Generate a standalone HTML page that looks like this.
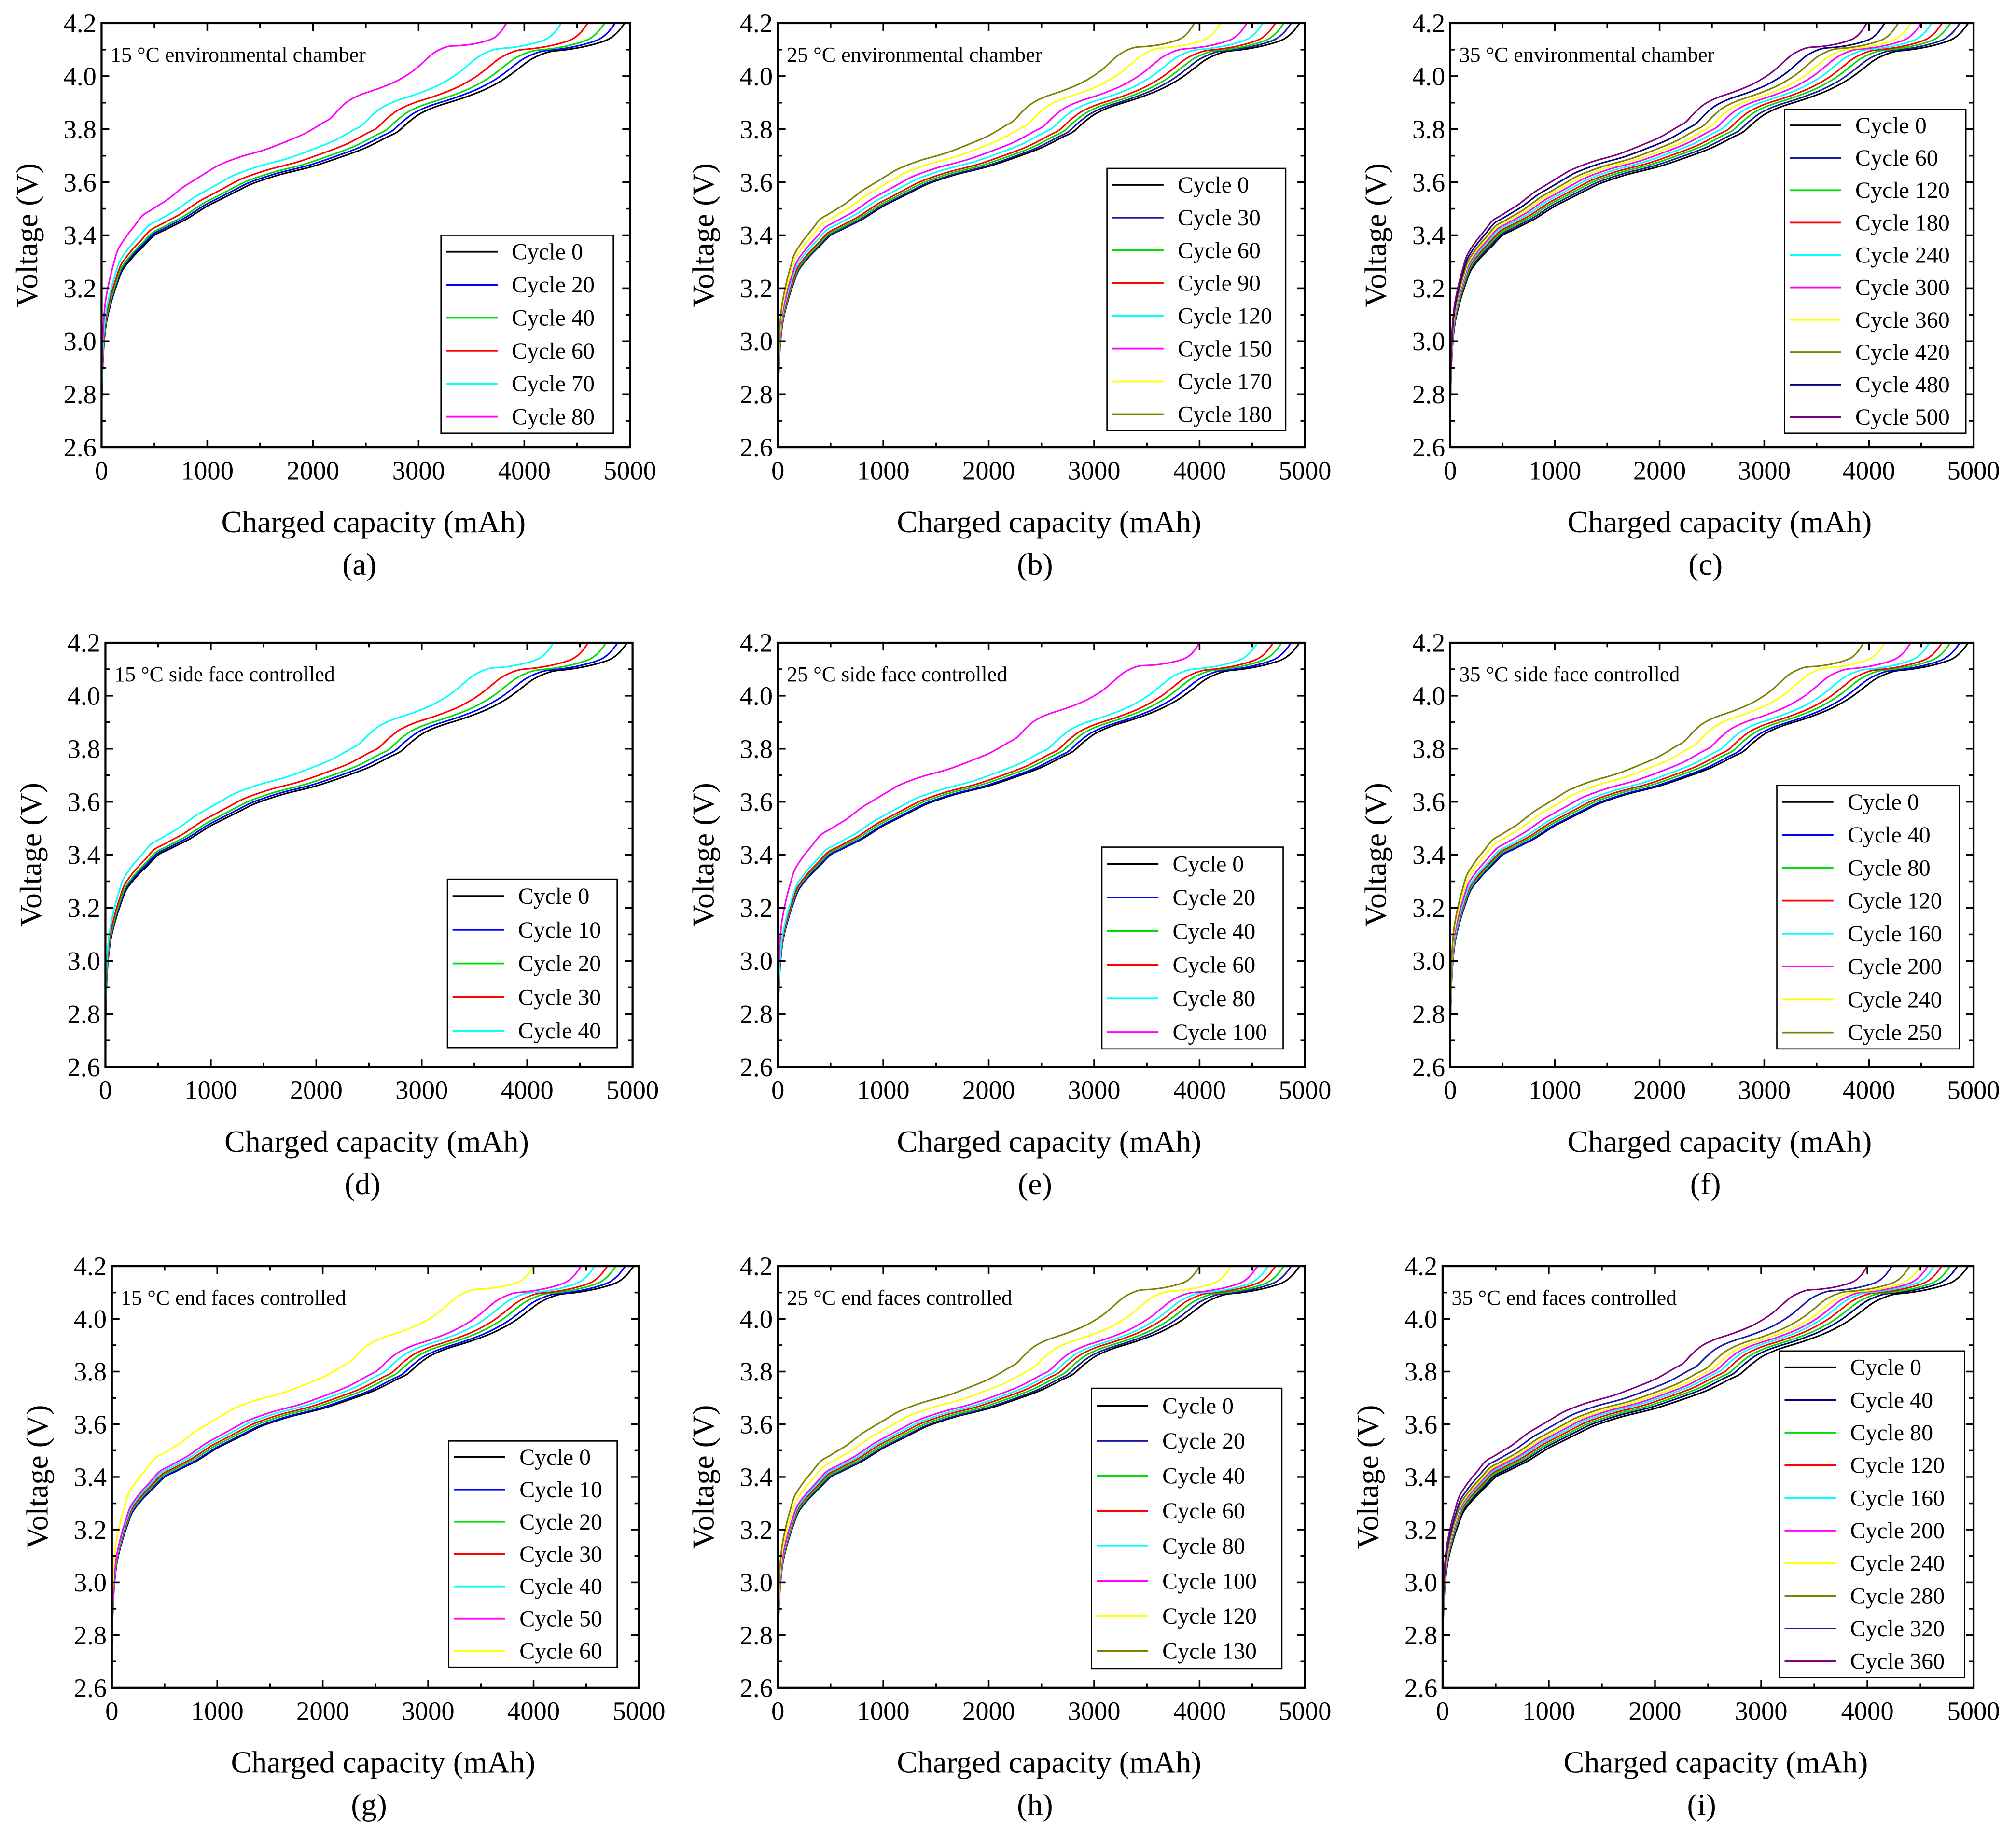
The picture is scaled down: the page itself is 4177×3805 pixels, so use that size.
<!DOCTYPE html>
<html><head><meta charset="utf-8"><style>
html,body{margin:0;padding:0;background:#fff;}
svg{display:block;font-family:"Liberation Serif","Times New Roman",serif;}
text{font-family:"Liberation Serif","Times New Roman",serif;fill:#000;}
</style></head><body>
<svg id="fig" xmlns="http://www.w3.org/2000/svg" width="4177" height="3805" viewBox="0 0 1568 1428.3" preserveAspectRatio="none" font-family="Liberation Serif, serif"></svg>
<script>
// Base cycle-0 charge curve: capacity (mAh) and voltage (V)
const baseQ = [0,10,25,50,100,150,200,300,400,500,600,700,800,900,1000,1100,1200,1300,1400,1500,1700,2000,2300,2500,2700,2800,2900,3000,3100,3200,3400,3600,3750,3850,3950,4050,4150,4250,4400,4550,4700,4800,4880,4950];
const baseV = [2.75,2.9,3.0,3.08,3.16,3.22,3.27,3.32,3.36,3.40,3.42,3.44,3.46,3.485,3.51,3.53,3.55,3.57,3.59,3.605,3.63,3.66,3.70,3.73,3.77,3.79,3.825,3.855,3.875,3.89,3.915,3.945,3.975,4.0,4.03,4.06,4.08,4.093,4.10,4.11,4.125,4.14,4.165,4.20];

const colK='#000000',colB='#0000ff',colG='#00dd00',colR='#ff0000',colC='#00ffff',colM='#ff00ff',colY='#ffff00',colO='#808000',colN='#000080',colN2='#1a1aa0',colP='#800080';

// Panel (a)
const aLabels=['Cycle 0','Cycle 20','Cycle 40','Cycle 60','Cycle 70','Cycle 80'];
const aEnd=[4950,4860,4760,4600,4350,3830];
const aOff=[0,0.005,0.01,0.02,0.035,0.075];
const aCol=[colK,colB,colG,colR,colC,colM];
// Panel (b)
const bLabels=['Cycle 0','Cycle 30','Cycle 60','Cycle 90','Cycle 120','Cycle 150','Cycle 170','Cycle 180'];
const bEnd=[4950,4870,4800,4720,4600,4450,4200,3950];
const bOff=[0,0,0.005,0.01,0.02,0.03,0.045,0.06];
const bCol=[colK,colN2,colG,colR,colC,colM,colY,colO];
// Panel (c)
const cLabels=['Cycle 0','Cycle 60','Cycle 120','Cycle 180','Cycle 240','Cycle 300','Cycle 360','Cycle 420','Cycle 480','Cycle 500'];
const cEnd=[4950,4870,4780,4700,4600,4500,4400,4280,4150,3980];
const cOff=[0,0.005,0.01,0.015,0.02,0.025,0.03,0.035,0.045,0.055];
const cCol=[colK,colN2,colG,colR,colC,colM,colY,colO,colN,colP];
// Panel (d)
const dLabels=['Cycle 0','Cycle 10','Cycle 20','Cycle 30','Cycle 40'];
const dEnd=[4950,4860,4750,4580,4250];
const dOff=[0,0.005,0.01,0.02,0.04];
const dCol=[colK,colB,colG,colR,colC];
// Panel (e)
const eLabels=['Cycle 0','Cycle 20','Cycle 40','Cycle 60','Cycle 80','Cycle 100'];
const eEnd=[4950,4870,4780,4700,4550,4000];
const eOff=[0,0,0.005,0.01,0.02,0.075];
const eCol=[colK,colB,colG,colR,colC,colM];
// Panel (f)
const fLabels=['Cycle 0','Cycle 40','Cycle 80','Cycle 120','Cycle 160','Cycle 200','Cycle 240','Cycle 250'];
const fEnd=[4950,4870,4780,4700,4580,4400,4150,3950];
const fOff=[0,0,0.005,0.01,0.015,0.025,0.04,0.055];
const fCol=[colK,colB,colG,colR,colC,colM,colY,colO];
// Panel (g)
const gLabels=['Cycle 0','Cycle 10','Cycle 20','Cycle 30','Cycle 40','Cycle 50','Cycle 60'];
const gEnd=[4950,4870,4780,4700,4580,4450,4000];
const gOff=[0,0,0.005,0.01,0.015,0.02,0.07];
const gCol=[colK,colB,colG,colR,colC,colM,colY];
// Panel (h)
const hLabels=['Cycle 0','Cycle 20','Cycle 40','Cycle 60','Cycle 80','Cycle 100','Cycle 120','Cycle 130'];
const hEnd=[4950,4870,4800,4720,4650,4550,4300,4000];
const hOff=[0,0,0.005,0.01,0.015,0.02,0.04,0.06];
const hCol=[colK,colN2,colG,colR,colC,colM,colY,colO];
// Panel (i)
const iLabels=['Cycle 0','Cycle 40','Cycle 80','Cycle 120','Cycle 160','Cycle 200','Cycle 240','Cycle 280','Cycle 320','Cycle 360'];
const iEnd=[4950,4850,4780,4700,4630,4570,4500,4400,4230,4000];
const iOff=[0,0.005,0.01,0.015,0.02,0.025,0.03,0.035,0.045,0.06];
const iCol=[colK,colN,colG,colR,colC,colM,colY,colO,colN2,colP];

const xTicks=[0,1000,2000,3000,4000,5000];
const yTicks=[2.6,2.8,3.0,3.2,3.4,3.6,3.8,4.0,4.2];

const panels=[
 {id:'a',title:'15 °C environmental chamber',L:aLabels,E:aEnd,O:aOff,C:aCol,x0:79,x1:490,y0:18,y1:348,lg:[343,183,477,337]},
 {id:'b',title:'25 °C environmental chamber',L:bLabels,E:bEnd,O:bOff,C:bCol,x0:605,x1:1015,y0:18,y1:348,lg:[861,131,1000,335]},
 {id:'c',title:'35 °C environmental chamber',L:cLabels,E:cEnd,O:cOff,C:cCol,x0:1128,x1:1535,y0:18,y1:348,lg:[1388,85,1529,337]},
 {id:'d',title:'15 °C side face controlled',L:dLabels,E:dEnd,O:dOff,C:dCol,x0:82,x1:492,y0:500,y1:830,lg:[348,684,480,815]},
 {id:'e',title:'25 °C side face controlled',L:eLabels,E:eEnd,O:eOff,C:eCol,x0:605,x1:1015,y0:500,y1:830,lg:[857,659,998,816]},
 {id:'f',title:'35 °C side face controlled',L:fLabels,E:fEnd,O:fOff,C:fCol,x0:1128,x1:1535,y0:500,y1:830,lg:[1382,611,1524,816]},
 {id:'g',title:'15 °C end faces controlled',L:gLabels,E:gEnd,O:gOff,C:gCol,x0:87,x1:497,y0:985,y1:1313,lg:[349,1121,480,1297]},
 {id:'h',title:'25 °C end faces controlled',L:hLabels,E:hEnd,O:hOff,C:hCol,x0:605,x1:1015,y0:985,y1:1313,lg:[849,1080,997,1298]},
 {id:'i',title:'35 °C end faces controlled',L:iLabels,E:iEnd,O:iOff,C:iCol,x0:1122,x1:1535,y0:985,y1:1313,lg:[1384,1051,1528,1305]}
];

const NS='http://www.w3.org/2000/svg';
const svg=document.getElementById('fig');
function mk(tag,attrs,parent){const e=document.createElementNS(NS,tag);for(const k in attrs)e.setAttribute(k,attrs[k]);(parent||svg).appendChild(e);return e;}
function smooth(pts){
 let d='M'+pts[0][0].toFixed(2)+' '+pts[0][1].toFixed(2);
 for(let i=0;i<pts.length-1;i++){
  const p0=pts[i-1]||pts[i],p1=pts[i],p2=pts[i+1],p3=pts[i+2]||p2;
  const c1x=p1[0]+(p2[0]-p0[0])/6,c1y=p1[1]+(p2[1]-p0[1])/6;
  const c2x=p2[0]-(p3[0]-p1[0])/6,c2y=p2[1]-(p3[1]-p1[1])/6;
  d+='C'+c1x.toFixed(2)+' '+c1y.toFixed(2)+' '+c2x.toFixed(2)+' '+c2y.toFixed(2)+' '+p2[0].toFixed(2)+' '+p2[1].toFixed(2);
 }
 return d;
}

panels.forEach(p=>{
 const g=mk('g',{});
 
 
 const X=v=>p.x0+(v/5000)*(p.x1-p.x0);
 const Y=v=>p.y1-(v-2.6)/1.6*(p.y1-p.y0);
 const cg=mk('g',{},g);
 
 
 const qMax=baseQ[baseQ.length-1];
 p.E.forEach((end,k)=>{
  const off=p.O[k];
  const s=end/qMax;
  const pts=baseQ.map((q,j)=>{const t=q/qMax;const v=Math.min(4.2,baseV[j]+off*(1-t*t));return [X(q*s),Y(v)];});
  const path=mk('path',{d:smooth(pts),fill:'none',stroke:p.C[k],'stroke-width':1.2,'stroke-linejoin':'round'},cg);
  
  
 });
 const fr=mk('rect',{x:p.x0,y:p.y0,width:p.x1-p.x0,height:p.y1-p.y0,fill:'none',stroke:'#000','stroke-width':1.6},g);
 
 
 const tg=mk('g',{stroke:'#000','stroke-width':1.3},g);
 for(let v=0;v<=5000;v+=500){const len=(v%1000===0)?6:3.5;const x=X(v);
  mk('line',{x1:x,y1:p.y1,x2:x,y2:p.y1-len},tg);mk('line',{x1:x,y1:p.y0,x2:x,y2:p.y0+len},tg);}
 for(let i=0;i<=16;i++){const v=2.6+i*0.1;const len=(i%2===0)?6:3.5;const y=Y(v);
  mk('line',{x1:p.x0,y1:y,x2:p.x0+len,y2:y},tg);mk('line',{x1:p.x1,y1:y,x2:p.x1-len,y2:y},tg);}
 xTicks.forEach(v=>{const t=mk('text',{x:X(v),y:p.y1+25,'text-anchor':'middle','font-size':20.5,'font-family':'Liberation Serif, serif'},g);t.textContent=v;
  });
 yTicks.forEach(v=>{const t=mk('text',{x:p.x0-4,y:Y(v)+7,'text-anchor':'end','font-size':20.5,'font-family':'Liberation Serif, serif'},g);t.textContent=v.toFixed(1);
  });
 const xt=mk('text',{x:(p.x0+p.x1)/2+6,y:p.y1+66,'text-anchor':'middle','font-size':24,'font-family':'Liberation Serif, serif'},g);xt.textContent='Charged capacity (mAh)';
 
 const yc=(p.y0+p.y1)/2, yx=p.x0-50;
 const yt=mk('text',{x:yx,y:yc,'text-anchor':'middle','font-size':24,'font-family':'Liberation Serif, serif',transform:'rotate(-90 '+yx+' '+yc+')'},g);yt.textContent='Voltage (V)';
 
 const pl=mk('text',{x:(p.x0+p.x1)/2-5,y:p.y1+99,'text-anchor':'middle','font-size':24,'font-family':'Liberation Serif, serif'},g);pl.textContent='('+p.id+')';
 
 const an=mk('text',{x:p.x0+7,y:p.y0+30,'font-size':16.5,'font-family':'Liberation Serif, serif'},g);an.textContent=p.title;
 
 const [lx0,ly0,lx1,ly1]=p.lg;
 const lgG=mk('g',{},g);
 
 
 mk('rect',{x:lx0,y:ly0,width:lx1-lx0,height:ly1-ly0,fill:'#fff',stroke:'#000','stroke-width':1},lgG);
 const n=p.L.length, step=(ly1-ly0)/n;
 p.L.forEach((lab,k)=>{const cy=ly0+step*(k+0.5);
  const ent=mk('g',{},lgG);
  
  
  mk('line',{x1:lx0+4,y1:cy,x2:lx0+44,y2:cy,stroke:p.C[k],'stroke-width':1.4},ent);
  const t=mk('text',{x:lx0+55,y:cy+6,'font-size':18,'font-family':'Liberation Serif, serif'},ent);t.textContent=lab;});
});
</script>
</body></html>
